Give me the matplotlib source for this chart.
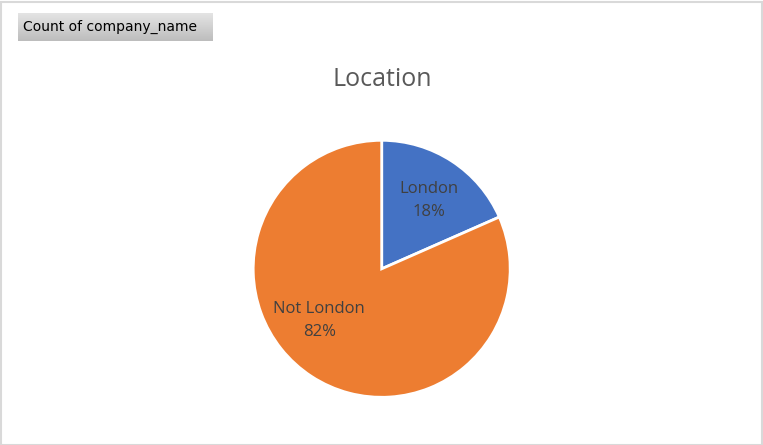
import matplotlib
matplotlib.use("Agg")
import matplotlib.pyplot as plt
import numpy as np
from matplotlib.patches import Rectangle
from matplotlib.colors import LinearSegmentedColormap

categories = ["London", "Not London"]
values = [18.4, 81.6]
colors = ["#4472C4", "#ED7D31"]
title = "Location"
button_text = "Count of company_name"

W, H = 763, 445
fig = plt.figure(figsize=(W / 100, H / 100), dpi=100)
fig.patch.set_facecolor("white")

# outer border
fig.add_artist(Rectangle((0.5 / W, 0.5 / H), (W - 2) / W, (H - 2) / H,
                         transform=fig.transFigure, fill=False,
                         edgecolor="#d9d9d9", linewidth=1.5))

# button with gradient
bx0, by0, bx1, by1 = 18, 13, 213, 41
bax = fig.add_axes([bx0 / W, 1 - by1 / H, (bx1 - bx0) / W, (by1 - by0) / H])
grad = np.linspace(0, 1, 64).reshape(-1, 1)
cm = LinearSegmentedColormap.from_list("g", ["#e4e4e4", "#bdbdbd"])
bax.imshow(grad, aspect="auto", cmap=cm, extent=[0, 1, 0, 1], origin="upper")
bax.set_axis_off()
bax.text(0.025, 0.5, button_text, transform=bax.transAxes, ha="left", va="center",
         fontsize=10, family="DejaVu Sans", color="#000000")

# pie
cx, cy, r = 381.7, 268.8, 128.5
ax = fig.add_axes([(cx - r) / W, (H - cy - r) / H, 2 * r / W, 2 * r / H])
ax.pie(values, colors=colors, startangle=90, counterclock=False, radius=1,
       wedgeprops=dict(edgecolor="white", linewidth=2))
ax.set_xlim(-1, 1)
ax.set_ylim(-1, 1)
ax.set_aspect("equal")
ax.set_axis_off()

total = sum(values)
label_pos = [(0.365, 0.53), (-0.486, -0.40)]
for cat, v, (lx, ly) in zip(categories, values, label_pos):
    ax.text(lx, ly, f"{cat}\n{round(100 * v / total):.0f}%", ha="center", va="center",
            fontsize=12, family="Open Sans", color="#404040", linespacing=1.55)

fig.text(382 / W, 1 - 80 / H, title, ha="center", va="center",
         fontsize=18, family="Open Sans", color="#595959")

fig.savefig("out.png", dpi=100)
